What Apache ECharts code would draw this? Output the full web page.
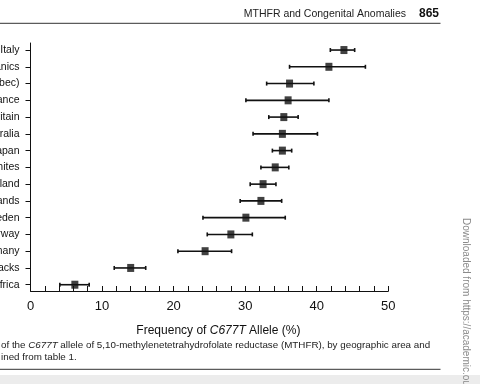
<!DOCTYPE html>
<html>
<head>
<meta charset="utf-8">
<script src="https://cdn.jsdelivr.net/npm/echarts@6/dist/echarts.min.js"></script>
<style>
html,body{margin:0;padding:0;background:#fff;}
#c{width:480px;height:384px;}
</style>
</head>
<body>
<div id="c"></div>
<script>
// Categories, top to bottom
var countries = ["Italy", "Hispanics", "Canada (Quebec)", "France", "Great Britain", "Australia", "Japan", "US Whites", "Ireland", "Netherlands", "Sweden", "Norway", "Germany", "US Blacks", "Africa"];
// Frequency of C677T allele (%) and 95% CI
var freq  = [43.8, 41.7, 36.2, 36.0, 35.4, 35.2, 35.2, 34.2, 32.5, 32.2, 30.1, 28.0, 24.4, 14.0, 6.2];
var lower = [41.9, 36.2, 33.0, 30.1, 33.3, 31.1, 33.8, 32.2, 30.7, 29.3, 24.1, 24.7, 20.6, 11.7, 4.1];
var upper = [45.3, 46.8, 39.6, 41.7, 37.4, 40.1, 36.5, 36.1, 34.3, 35.1, 35.6, 31.0, 28.1, 16.1, 8.2];
var xTickLabels = [0, 10, 20, 30, 40, 50];

var n = countries.length;
var rowPos = countries.map(function (c, i) { return n - i; });
var pointData = freq.map(function (v, i) { return [v, rowPos[i]]; });
var ciData = lower.map(function (lo, i) { return [lo, upper[i], rowPos[i]]; });

var ink = '#111111';
var font = 'Liberation Sans, Arial, sans-serif';
var chart = echarts.init(document.getElementById('c'), null, {renderer: 'canvas'});
chart.setOption({
  backgroundColor: '#ffffff',
  animation: false,
  grid: {left: 30.5, right: 91.7, top: 43, bottom: 93, containLabel: false, outerBoundsMode: 'none'},
  xAxis: {
    type: 'value', min: 0, max: 50, interval: 2,
    axisLine: {show: true, lineStyle: {color: ink, width: 1}},
    axisTick: {show: true, inside: true, length: 5, lineStyle: {color: ink, width: 1}},
    splitLine: {show: false},
    axisLabel: {
      color: ink, fontSize: 13, fontFamily: font, margin: 9,
      formatter: function (v) { return xTickLabels.indexOf(v) >= 0 ? String(v) : ''; }
    },
    name: '{n|Frequency of }{i|C677T}{n| Allele (%)}',
    nameLocation: 'middle', nameGap: 34,
    nameTextStyle: {
      padding: [0, 0, 0, 18],
      rich: {
        n: {fontSize: 12, color: ink, fontFamily: font},
        i: {fontSize: 12, color: ink, fontStyle: 'italic', fontFamily: font}
      }
    }
  },
  yAxis: {
    type: 'value', min: 0.625, max: 15.42,
    axisLine: {show: true, lineStyle: {color: ink, width: 1}},
    axisTick: {show: true, inside: false, length: 5, customValues: rowPos, lineStyle: {color: ink, width: 1}},
    splitLine: {show: false},
    axisLabel: {
      customValues: rowPos,
      color: ink, fontSize: 10.5, fontFamily: font, margin: 11,
      formatter: function (v) { var idx = n - Math.round(v); return countries[idx] || ''; }
    }
  },
  series: [
    {
      type: 'custom',
      data: ciData,
      encode: {x: [0, 1], y: 2},
      renderItem: function (params, api) {
        var a = api.coord([api.value(0), api.value(2)]);
        var b = api.coord([api.value(1), api.value(2)]);
        var st = {stroke: ink, lineWidth: 1.6};
        return {
          type: 'group',
          children: [
            {type: 'line', shape: {x1: a[0], y1: a[1], x2: b[0], y2: b[1]}, style: st},
            {type: 'line', shape: {x1: a[0], y1: a[1] - 2, x2: a[0], y2: a[1] + 2}, style: st},
            {type: 'line', shape: {x1: b[0], y1: b[1] - 2, x2: b[0], y2: b[1] + 2}, style: st}
          ]
        };
      },
      z: 2
    },
    {
      type: 'scatter',
      data: pointData,
      symbol: 'rect',
      symbolSize: [7, 8],
      itemStyle: {color: ink},
      z: 3
    }
  ],
  graphic: [
    {type: 'text', x: 406, y: 14, style: {text: 'MTHFR and Congenital Anomalies', fill: '#222', fontSize: 10.5, fontFamily: font, align: 'right', verticalAlign: 'middle'}},
    {type: 'text', x: 419, y: 14, style: {text: '865', fill: '#111', fontSize: 12, fontWeight: 'bold', fontFamily: font, align: 'left', verticalAlign: 'middle'}},
    {type: 'line', shape: {x1: 0, y1: 23.3, x2: 440.5, y2: 23.3}, style: {stroke: '#333', lineWidth: 1}},
    {type: 'text', x: 1, y: 345, style: {
      text: '{n|of the }{i|C677T}{n| allele of 5,10-methylenetetrahydrofolate reductase (MTHFR), by geographic area and}',
      rich: {
        n: {fontSize: 9.8, fill: '#222', fontFamily: font},
        i: {fontSize: 9.8, fill: '#222', fontStyle: 'italic', fontFamily: font}
      },
      align: 'left', verticalAlign: 'middle'}},
    {type: 'text', x: 1, y: 357, style: {text: 'ined from table 1.', fill: '#222', fontSize: 9.8, fontFamily: font, align: 'left', verticalAlign: 'middle'}},
    {type: 'line', shape: {x1: 0, y1: 369.3, x2: 440.5, y2: 369.3}, style: {stroke: '#333', lineWidth: 1}},
    {type: 'rect', shape: {x: 0, y: 375, width: 480, height: 9}, style: {fill: '#ececec'}},
    {type: 'text', x: 466, y: 218, rotation: -Math.PI / 2, style: {text: 'Downloaded from https://academic.oup.com', fill: '#8a8a8a', fontSize: 10, fontFamily: font, align: 'left', verticalAlign: 'middle'}}
  ]
});
</script>
</body>
</html>
